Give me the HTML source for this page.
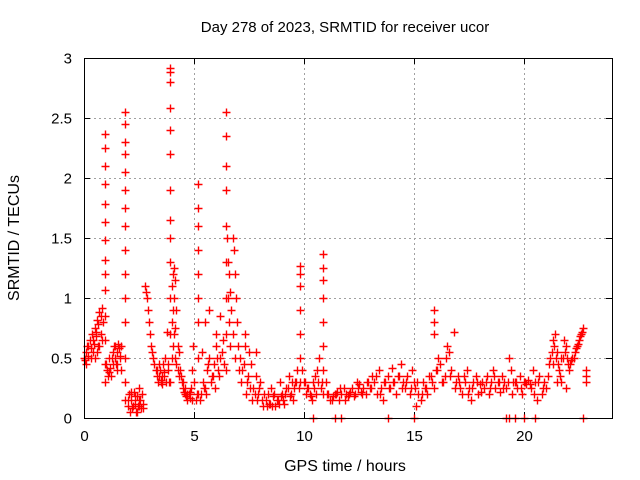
<!DOCTYPE html>
<html><head><meta charset="utf-8"><style>
html,body{margin:0;padding:0;background:#fff}
svg{display:block;font-family:"Liberation Sans",sans-serif}
</style></head><body>
<svg id="chart" width="640" height="480">
<text x="345" y="32" text-anchor="middle" font-size="15" fill="#000">Day 278 of 2023, SRMTID for receiver ucor</text>
<text x="345" y="471" text-anchor="middle" font-size="16" fill="#000">GPS time / hours</text>
<text transform="translate(19,238) rotate(-90)" text-anchor="middle" font-size="16" fill="#000">SRMTID / TECUs</text>
<g id="grid"></g>
<g id="ticks"></g>
<g id="points"></g>
<rect x="84.5" y="58.5" width="528" height="360" fill="none" stroke="#000" stroke-width="1"/>
</svg>
<script>
const xTicks=[0,5,10,15,20];
const yTicks=[0,0.5,1,1.5,2,2.5,3];
const yTickLabels=["0","0.5","1","1.5","2","2.5","3"];
const times=[
0,0.05,0.1,0.15,0.2,0.25,0.3,0.35,0.4,0.45,0.5,0.55,0.6,0.65,0.7,0.75,0.8,0.85,0.5,0.6,0.7,0.8,
0.95,0.95,0.95,0.95,0.95,0.95,0.95,0.95,0.95,0.95,0.95,0.95,0.95,0.95,
1.0,1.05,1.1,1.15,1.2,1.25,1.3,1.35,1.4,1.45,1.5,1.55,1.6,1.65,1.7,1.1,1.3,1.5,
1.85,1.85,1.85,1.85,1.85,1.85,1.85,1.85,1.85,1.85,1.85,1.85,1.85,1.85,1.85,
2.0,2.05,2.1,2.15,2.2,2.25,2.3,2.35,2.4,2.45,2.5,2.55,2.6,2.65,2.7,
2.75,2.8,2.85,2.9,2.95,3.0,3.05,3.1,3.15,3.2,3.25,3.3,
3.35,3.4,3.45,3.5,3.55,3.6,3.65,3.7,3.75,3.8,3.85,3.55,
3.9,3.9,3.9,3.9,3.9,3.9,3.9,3.9,3.9,3.9,3.9,3.9,3.9,
4.0,4.0,4.0,4.05,4.05,4.05,4.1,4.1,4.1,4.15,4.15,4.15,4.2,4.2,4.25,4.25,4.3,4.3,4.35,4.4,
4.45,4.5,4.55,4.6,4.65,4.7,4.75,4.8,4.85,4.9,4.95,5.0,
5.2,5.2,5.2,5.2,5.2,5.2,5.2,5.2,5.2,
5.1,5.3,5.4,5.5,5.6,5.7,5.8,5.9,6.0,6.1,6.2,6.3,5.35,5.65,5.5,5.7,6.0,6.2,
6.45,6.45,6.45,6.45,6.45,6.45,6.45,6.45,6.45,
6.5,6.55,6.55,6.6,6.6,6.65,6.65,6.7,6.75,6.75,6.8,6.85,6.85,6.9,6.95,7.0,
7.1,7.2,7.3,7.4,7.5,7.6,7.7,7.8,7.9,8.0,7.3,7.8,
8.1,8.2,8.3,8.4,8.5,8.6,8.7,8.8,8.9,9.0,9.1,9.2,9.3,9.4,9.5,9.6,9.7,9.75,
9.8,9.8,9.8,9.8,9.8,9.8,9.8,
9.9,10.0,10.1,10.2,10.3,10.4,10.5,10.6,10.7,10.8,
10.85,10.85,10.85,10.85,10.85,10.85,10.85,10.85,
11.0,11.1,11.2,11.3,11.4,11.5,11.6,11.7,11.8,11.9,12.0,12.1,12.2,12.3,12.4,12.5,12.6,12.7,12.8,12.9,13.0,
13.1,13.2,13.3,13.4,13.5,13.6,13.7,13.8,13.9,14.0,14.1,14.2,14.3,14.4,14.5,14.6,14.7,14.8,14.9,15.0,
15.1,15.2,15.3,15.4,15.5,15.6,15.7,15.8,15.9,16.0,15.9,15.9,15.9,
16.1,16.2,16.3,16.4,16.5,16.6,16.7,16.8,16.9,17.0,17.1,17.2,17.3,17.4,17.5,17.6,17.7,17.8,17.9,18.0,18.1,18.2,18.3,18.4,18.5,18.6,18.7,18.8,18.9,19.0,19.1,19.2,19.3,19.4,19.5,
19.6,19.7,19.8,19.9,20.0,20.1,20.2,20.3,20.4,20.5,20.6,20.7,20.8,20.9,21.0,
21.1,21.2,21.3,21.4,21.5,21.6,21.7,21.8,21.9,22.0,21.3,21.5,21.7,21.9,
22.1,22.2,22.3,22.4,22.5,22.6,22.7,22.8,22.8,22.8,
10.4,11.4,11.7,13.8,15.0,19.2,19.3,19.6,20.0,20.5,22.7
];
const values=[
0.5,0.48,0.55,0.6,0.52,0.65,0.58,0.7,0.55,0.62,0.75,0.68,0.82,0.78,0.88,0.85,0.92,0.8,0.5,0.55,0.6,0.65,
0.3,0.45,0.65,0.85,1.07,1.2,1.32,1.48,1.63,1.78,1.95,2.1,2.25,2.37,
0.45,0.4,0.35,0.38,0.42,0.5,0.55,0.6,0.5,0.45,0.55,0.62,0.58,0.5,0.4,0.35,0.45,0.4,
0.5,0.8,1.0,1.2,1.4,1.6,1.75,1.9,2.05,2.2,2.3,2.45,2.55,0.15,0.3,
0.1,0.2,0.05,0.15,0.08,0.22,0.12,0.05,0.18,0.1,0.25,0.15,0.08,0.2,0.12,
1.1,1.05,1.0,0.9,0.8,0.7,0.6,0.55,0.5,0.45,0.4,0.35,
0.3,0.35,0.4,0.3,0.28,0.45,0.35,0.5,0.72,0.4,0.3,0.35,
0.3,0.7,1.0,1.3,1.5,1.65,1.9,2.2,2.4,2.58,2.8,2.88,2.92,
0.5,0.8,1.1,0.6,0.9,1.2,0.7,1.0,1.25,0.5,0.75,1.15,0.45,0.9,0.4,0.6,0.35,0.55,0.4,0.35,
0.3,0.25,0.22,0.2,0.18,0.15,0.2,0.17,0.25,0.4,0.6,0.3,
0.2,0.5,0.8,1.0,1.2,1.4,1.6,1.75,1.95,
0.15,0.2,0.3,0.25,0.4,0.5,0.35,0.45,0.6,0.4,0.5,0.65,0.55,0.45,0.8,0.9,0.7,0.85,
0.4,0.7,1.0,1.3,1.6,1.9,2.1,2.35,2.55,
1.5,1.3,1.0,1.2,0.8,1.05,0.6,0.9,1.5,0.7,1.4,1.2,0.5,1.0,0.8,0.6,
0.5,0.4,0.6,0.3,0.55,0.45,0.25,0.35,0.2,0.3,0.7,0.55,
0.15,0.2,0.1,0.12,0.25,0.18,0.1,0.15,0.3,0.2,0.12,0.25,0.35,0.2,0.15,0.3,0.4,0.25,
0.3,0.5,0.7,0.9,1.1,1.2,1.27,
0.4,0.3,0.2,0.25,0.18,0.3,0.35,0.4,0.5,0.3,
0.2,0.4,0.6,0.8,1.0,1.15,1.25,1.37,
0.3,0.2,0.15,0.18,0.2,0.22,0.15,0.2,0.25,0.2,0.18,0.22,0.25,0.2,0.3,0.28,0.22,0.25,0.2,0.3,0.25,
0.35,0.3,0.2,0.4,0.25,0.15,0.3,0.35,0.25,0.42,0.3,0.2,0.35,0.45,0.3,0.25,0.35,0.2,0.4,0.3,
0.1,0.2,0.15,0.3,0.25,0.2,0.35,0.3,0.25,0.4,0.7,0.8,0.9,
0.5,0.45,0.3,0.35,0.6,0.55,0.4,0.72,0.3,0.35,0.25,0.2,0.3,0.4,0.25,0.15,0.3,0.35,0.2,0.28,0.3,0.25,0.35,0.2,0.3,0.4,0.25,0.3,0.22,0.35,0.3,0.25,0.5,0.4,0.3,
0.3,0.25,0.35,0.2,0.3,0.28,0.32,0.25,0.4,0.3,0.15,0.35,0.2,0.3,0.25,
0.35,0.5,0.65,0.7,0.55,0.4,0.5,0.65,0.6,0.45,0.45,0.3,0.3,0.25,
0.45,0.5,0.55,0.6,0.65,0.7,0.75,0.35,0.3,0.4,
0,0,0,0,0,0,0,0,0,0,0
];
const timesExtra=[
0.1,0.2,0.3,0.4,0.55,0.65,0.75,
1.12,1.22,1.32,1.42,1.52,1.62,1.68,
2.02,2.12,2.22,2.32,2.42,2.52,2.62,2.68,2.3,2.5,
3.32,3.42,3.52,3.62,3.72,3.82,
4.5,4.6,4.7,4.8,4.9,
5.15,5.25,5.45,5.55,5.75,5.85,5.95,6.05,6.15,6.25,6.35,
7.05,7.15,7.25,7.35,7.45,7.55,7.65,7.75,7.85,7.95,
8.15,8.25,8.35,8.45,8.55,8.65,8.75,8.85,8.95,9.05,9.15,9.25,9.35,9.45,9.55,9.65,
10.05,10.15,10.25,10.35,10.45,10.55,10.65,10.75,
11.05,11.25,11.45,11.65,11.85,12.05,12.25,12.45,12.65,12.85,13.05,13.25,13.45,13.65,13.85,14.05,14.25,14.45,14.65,14.85,15.05,
15.15,15.35,15.55,15.75,16.05,16.25,16.45,16.65,16.85,17.05,17.25,17.45,17.65,17.85,18.05,18.25,18.45,18.65,18.85,19.05,19.25,19.45,
19.65,19.85,20.05,20.25,20.45,20.65,20.85,
21.15,21.25,21.35,21.45,21.55,21.65,21.75,21.85,21.95,22.05,22.15,22.25,22.35,22.45,22.55,22.65
];
const valuesExtra=[
0.45,0.6,0.5,0.65,0.72,0.6,0.7,
0.5,0.35,0.55,0.6,0.45,0.52,0.6,
0.15,0.22,0.1,0.18,0.05,0.15,0.2,0.08,0.12,0.1,
0.4,0.45,0.32,0.38,0.3,0.45,
0.3,0.25,0.2,0.22,0.15,
0.2,0.15,0.25,0.2,0.3,0.35,0.25,0.5,0.35,0.55,0.45,
0.4,0.3,0.45,0.2,0.35,0.25,0.15,0.2,0.15,0.25,
0.1,0.15,0.2,0.12,0.1,0.2,0.15,0.12,0.18,0.15,0.2,0.25,0.18,0.3,0.25,0.3,
0.3,0.25,0.2,0.15,0.25,0.2,0.3,0.25,
0.2,0.15,0.2,0.25,0.15,0.2,0.18,0.25,0.2,0.3,0.25,0.35,0.2,0.3,0.25,0.3,0.35,0.25,0.3,0.25,0.25,
0.3,0.2,0.25,0.35,0.4,0.3,0.5,0.35,0.25,0.3,0.35,0.2,0.25,0.3,0.22,0.3,0.25,0.35,0.3,0.25,0.3,0.2,
0.3,0.25,0.3,0.28,0.2,0.3,0.25,
0.45,0.55,0.6,0.5,0.45,0.35,0.5,0.55,0.5,0.4,0.48,0.5,0.58,0.62,0.68,0.72
];
const NS="http://www.w3.org/2000/svg";
const L=84,R=612,T=58,B=418,XMAX=24,YMAX=3;
function xs(t){return L+(R-L)*t/XMAX;}
function ys(v){return B-(B-T)*v/YMAX;}
const grid=document.getElementById('grid'),ticks=document.getElementById('ticks'),pts=document.getElementById('points');
function line(g,x1,y1,x2,y2,st,dash){const l=document.createElementNS(NS,'line');l.setAttribute('x1',x1);l.setAttribute('y1',y1);l.setAttribute('x2',x2);l.setAttribute('y2',y2);l.setAttribute('stroke',st);l.setAttribute('stroke-width',1);if(dash)l.setAttribute('stroke-dasharray',dash);g.appendChild(l);return l;}
xTicks.forEach(t=>{const x=Math.round(xs(t))+0.5;
 if(t>0){const gl=line(grid,x,T,x,B,'#a0a0a0','2,3');
 
 }
 line(ticks,x,B,x,B-6,'#000');line(ticks,x,T,x,T+6,'#000');
 const tx=document.createElementNS(NS,'text');tx.setAttribute('x',x);tx.setAttribute('y',B+23);tx.setAttribute('text-anchor','middle');tx.setAttribute('font-size','15');tx.textContent=t;
 
 
 ticks.appendChild(tx);});
yTicks.forEach((v,i)=>{const y=Math.round(ys(v))+0.5;
 if(v>0&&v<3){const gl=line(grid,L,y,R,y,'#a0a0a0','2,3');
 
 }
 line(ticks,L,y,L+6,y,'#000');line(ticks,R,y,R-6,y,'#000');
 const tx=document.createElementNS(NS,'text');tx.setAttribute('x',72);tx.setAttribute('y',y+5);tx.setAttribute('text-anchor','end');tx.setAttribute('font-size','15');tx.textContent=yTickLabels[i];
 
 
 ticks.appendChild(tx);});
let d='';
const allT=times.concat(timesExtra),allV=values.concat(valuesExtra);
allT.forEach((t,i)=>{const x=Math.round(xs(t))+0.5,y=Math.round(ys(allV[i]))+0.5;d+=`M${x-4} ${y}h8M${x} ${y-4}v8`;});
const p=document.createElementNS(NS,'path');p.setAttribute('d',d);p.setAttribute('stroke','#ff0000');p.setAttribute('stroke-width','1.4');p.setAttribute('fill','none');


pts.appendChild(p);
</script>
</body></html>
